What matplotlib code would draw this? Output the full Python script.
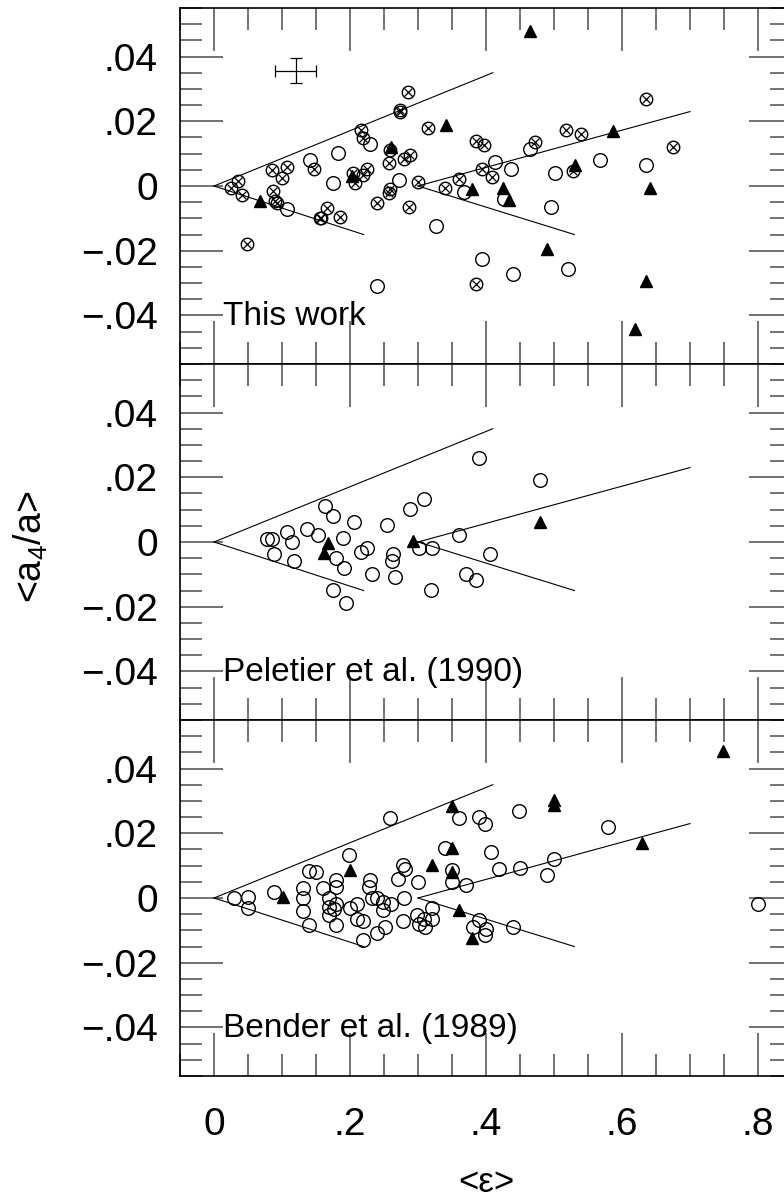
import matplotlib
matplotlib.use("Agg")
import matplotlib.pyplot as plt
from matplotlib.ticker import MultipleLocator, FixedLocator

plt.rcParams['font.family'] = ['Liberation Sans', 'DejaVu Sans']
plt.rcParams['mathtext.fontset'] = 'custom'
plt.rcParams['mathtext.rm'] = 'Liberation Sans'
plt.rcParams['mathtext.it'] = 'Liberation Sans'

# -------- DATA (ellipticity, a4/a) --------
# This work
work_cross_eps = [0.286, 0.274, 0.274, 0.314, 0.216, 0.219, 0.259, 0.288, 0.280, 0.258,
                  0.147, 0.085, 0.108, 0.100, 0.2245, 0.219, 0.208, 0.204, 0.300, 0.259,
                  0.257, 0.240, 0.287, 0.166, 0.158, 0.156, 0.185, 0.0897, 0.087, 0.092,
                  0.0245, 0.036, 0.041, 0.048, 0.385, 0.340, 0.361, 0.386, 0.397, 0.472,
                  0.518, 0.540, 0.635, 0.675, 0.394, 0.409, 0.528]
work_cross_a4 = [0.029, 0.0236, 0.023, 0.018, 0.0172, 0.0149, 0.011, 0.0097, 0.0082, 0.007,
                 0.0053, 0.0048, 0.0058, 0.0025, 0.0051, 0.0033, 0.0008, 0.0041, 0.0012, -0.0009,
                 -0.0023, -0.0054, -0.0064, -0.0067, -0.0098, -0.0098, -0.0096, -0.0047, -0.0016, -0.0054,
                 -0.0006, 0.0015, -0.0029, -0.0179, -0.0304, -0.0006, 0.0022, 0.0138, 0.0126, 0.0135,
                 0.0174, 0.0162, 0.027, 0.012, 0.0051, 0.0027, 0.0046]
work_open_eps = [0.229, 0.183, 0.141, 0.1745, 0.2725, 0.326, 0.107, 0.240, 0.394, 0.367,
                 0.464, 0.568, 0.635, 0.413, 0.437, 0.501, 0.427, 0.495, 0.439, 0.520]
work_open_a4 = [0.013, 0.0103, 0.008, 0.001, 0.002, -0.0124, -0.007, -0.031, -0.0225, -0.0019,
                0.0113, 0.0079, 0.0066, 0.0075, 0.0053, 0.0041, -0.004, -0.0066, -0.0273, -0.0256]
work_tri_eps = [0.068, 0.2025, 0.26, 0.341, 0.38, 0.4245, 0.434, 0.464, 0.489, 0.531,
                0.587, 0.635, 0.619, 0.641]
work_tri_a4 = [-0.0045, 0.003, 0.012, 0.0187, -0.0009, -0.0006, -0.0042, 0.048, -0.0196, 0.0064,
               0.0171, -0.0294, -0.0443, -0.0006]

# Peletier et al. (1990)
pel_open_eps = [0.390, 0.309, 0.288, 0.163, 0.1755, 0.206, 0.254, 0.137, 0.107, 0.153,
                0.190, 0.0775, 0.086, 0.115, 0.361, 0.0887, 0.118, 0.180, 0.191, 0.2157,
                0.2245, 0.2627, 0.262, 0.2328, 0.266, 0.302, 0.321, 0.1745, 0.1937, 0.3186,
                0.371, 0.385, 0.406, 0.480]
pel_open_a4 = [0.0261, 0.0132, 0.0101, 0.0111, 0.008, 0.0062, 0.0052, 0.0041, 0.0032, 0.0021,
               0.0011, 0.001, 0.001, 0.0, 0.0022, -0.0038, -0.0059, -0.005, -0.0079, -0.003,
               -0.002, -0.0038, -0.0059, -0.0098, -0.0108, -0.002, -0.002, -0.0148, -0.0189, -0.0148,
               -0.010, -0.0117, -0.0038, 0.0192]
pel_tri_eps = [0.167, 0.1617, 0.292, 0.480]
pel_tri_a4 = [-0.0004, -0.0035, 0.0003, 0.0063]

# Bender et al. (1989)
ben_open_eps = [0.259, 0.360, 0.389, 0.399, 0.199, 0.340, 0.2785, 0.281, 0.139, 0.150,
                0.3495, 0.3495, 0.370, 0.270, 0.3005, 0.180, 0.229, 0.228, 0.180, 0.1304,
                0.160, 0.0887, 0.0294, 0.0495, 0.0495, 0.1304, 0.1304, 0.140, 0.169, 0.1696,
                0.1696, 0.1794, 0.177, 0.1794, 0.200, 0.210, 0.210, 0.2186, 0.2196, 0.232,
                0.240, 0.249, 0.249, 0.2599, 0.2515, 0.239, 0.279, 0.278, 0.299, 0.3019,
                0.3093, 0.3103, 0.320, 0.320, 0.3804, 0.390, 0.399, 0.400, 0.408, 0.449,
                0.580, 0.4196, 0.450, 0.500, 0.489, 0.440, 0.800]
ben_open_a4 = [0.0248, 0.0248, 0.025, 0.023, 0.0132, 0.0153, 0.0101, 0.0091, 0.0083, 0.008,
               0.0086, 0.005, 0.0041, 0.006, 0.005, 0.0055, 0.0055, 0.0034, 0.0034, 0.0032,
               0.0032, 0.0019, 0.0, 0.0004, -0.003, 0.0, -0.0041, -0.0082, 0.0, -0.0028,
               -0.0051, -0.0019, -0.0033, -0.0082, -0.0031, -0.0019, -0.0066, -0.0072, -0.0131, 0.0,
               0.0, -0.0012, -0.0037, -0.0019, -0.009, -0.0109, 0.0, -0.0072, -0.0053, -0.0079,
               -0.0064, -0.009, -0.0031, -0.0066, -0.009, -0.0069, -0.0115, -0.0097, 0.0141, 0.0269,
               0.0219, 0.0091, 0.0094, 0.012, 0.007, -0.009, -0.002]
ben_tri_eps = [0.3495, 0.3495, 0.320, 0.200, 0.3495, 0.101, 0.360, 0.379, 0.749, 0.500,
               0.500, 0.629]
ben_tri_a4 = [0.0284, 0.0155, 0.0101, 0.0086, 0.008, 0.0003, -0.0036, -0.0124, 0.0453, 0.0302,
              0.0287, 0.0171]

# wedge lines (same in every panel)
wedge_eps = [[0, 0.41], [0, 0.22], [0.30, 0.70], [0.30, 0.53]]
wedge_a4 = [[0, 0.035], [0, -0.015], [0, 0.023], [0, -0.015]]

# typical error bar (this work)
err_eps, err_a4, err_deps, err_da4 = 0.12, 0.0356, 0.03, 0.0038

panel_names = ["This work", "Peletier et al. (1990)", "Bender et al. (1989)"]
yticks = [-0.04, -0.02, 0, 0.02, 0.04]
ytick_labels = ["\u2212.04", "\u2212.02", "0", ".02", ".04"]
xticks = [0, 0.2, 0.4, 0.6, 0.8]
xtick_labels = ["0", ".2", ".4", ".6", ".8"]

# -------- FIGURE --------
fig = plt.figure(figsize=(7.84, 11.99), dpi=100)
W, H = 784, 1199
left, right = 180, 792
tops = [8, 364, 720]
ph = 356
axes = []
for t in tops:
    ax = fig.add_axes([left / W, 1 - (t + ph) / H, (right - left) / W, ph / H])
    axes.append(ax)

circle = dict(ls="none", marker="o", mfc="none", mec="black", mew=1.0)
for i, ax in enumerate(axes):
    for xs, ys in zip(wedge_eps, wedge_a4):
        ax.plot(xs, ys, color="black", lw=0.8)

    if i == 0:
        ax.plot(work_cross_eps, work_cross_a4, ms=9.0, **circle)
        ax.plot(work_cross_eps, work_cross_a4, ls="none", marker="x", ms=6.3, mec="black", mew=0.9)
        ax.plot(work_open_eps, work_open_a4, ms=9.8, **circle)
        ax.plot(work_tri_eps, work_tri_a4, ls="none", marker="^", ms=8.5, color="black")
        ax.errorbar(err_eps, err_a4, xerr=err_deps, yerr=err_da4, color="black",
                    lw=0.9, capsize=4.5, capthick=0.9)
    elif i == 1:
        ax.plot(pel_open_eps, pel_open_a4, ms=9.8, **circle)
        ax.plot(pel_tri_eps, pel_tri_a4, ls="none", marker="^", ms=8.5, color="black")
    else:
        ax.plot(ben_open_eps, ben_open_a4, ms=9.8, **circle)
        ax.plot(ben_tri_eps, ben_tri_a4, ls="none", marker="^", ms=8.5, color="black")

    ax.text(0.013, -0.0428, panel_names[i], fontsize=24, va="baseline", ha="left")

    ax.set_xlim(-0.05, 0.85)
    ax.set_ylim(-0.055, 0.055)
    ax.xaxis.set_major_locator(FixedLocator(xticks))
    ax.xaxis.set_minor_locator(MultipleLocator(0.05))
    ax.yaxis.set_major_locator(FixedLocator(yticks))
    ax.yaxis.set_minor_locator(MultipleLocator(0.005))
    ax.set_yticklabels(ytick_labels)
    ax.set_xticklabels(xtick_labels if i == 2 else [])
    ax.tick_params(which="both", direction="in", top=True, right=True,
                   color="0.3", width=1.1, labelsize=28)
    ax.tick_params(which="major", length=31)
    ax.tick_params(which="minor", length=15.5)
    ax.tick_params(axis="y", pad=16)
    ax.tick_params(axis="x", pad=22)
    for s in ax.spines.values():
        s.set_linewidth(1.2)

fig.text(31 / W, 1 - 547 / H, "<a$_4$/a>", rotation=90, fontsize=27, ha="center", va="center")
fig.text(486 / W, 1 - 1183 / H, "<\u03b5>", fontsize=25, ha="center", va="center")

plt.savefig("out.png", dpi=100)
